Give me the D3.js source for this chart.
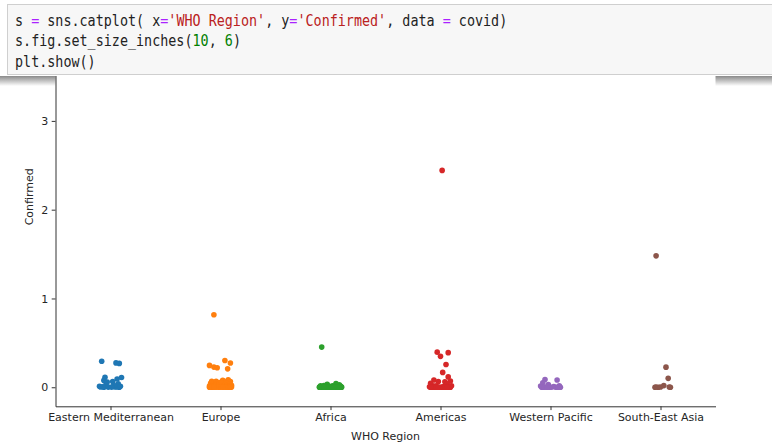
<!DOCTYPE html>
<html>
<head>
<meta charset="utf-8">
<script src="https://cdn.jsdelivr.net/npm/d3@7"></script>
<style>
  body { margin: 0; background: #fff; }
  svg { display: block; }
</style>
</head>
<body>
<svg id="chart" width="772" height="444"></svg>
<script>
// categories in the order seaborn drew them
var regions = ["Eastern Mediterranean", "Europe", "Africa", "Americas", "Western Pacific", "South-East Asia"];

// confirmed cases per country, and the strip jitter (in category units)
var emConfirmed = [36263, 39482, 5059, 92482, 293606, 112585, 1176, 64379, 3882, 2827, 20887, 77058, 274289, 109597, 268934, 3196, 11424, 674, 1455, 59177, 10621, 1691];
var emJitter = [-0.04, 0.07, -0.07, 0.06, -0.08, -0.05, 0.08, 0.02, 0.04, 0.06, 0.03, -0.06, 0.05, 0.1, 0.08, -0.09, 0.09, -0.06, -0.02, -0.03, -0.1, 0.01];

var euConfirmed = [816680, 301708, 272421, 246286, 227019, 220352, 207112, 67096, 67251, 84648, 79395, 66428, 63985, 53413, 50299, 43402, 45902, 37390, 34477, 33296, 30446, 25892, 23154, 24141, 21209, 20338, 15516, 13761, 10498, 10621, 10213, 9132, 7235, 7398, 6321, 4448, 4227, 4881, 4880, 2181, 2034, 1137, 1854, 2087, 2019, 7413, 2893, 907, 699, 1219, 701, 1060, 116, 86, 12, 14];
var euJitter = [-0.06, 0.04, 0.09, -0.1, -0.06, -0.03, 0.065, 0.03, -0.08, 0.07, 0.02, -0.04, 0.09, -0.01, 0.05, -0.09, 0.01, -0.06, 0.08, -0.03, 0.04, -0.07, 0.06, -0.02, 0.1, -0.05, 0.03, -0.1, 0.07, -0.04, 0.0, 0.05, -0.08, 0.09, -0.02, 0.02, -0.06, 0.08, -0.09, 0.04, -0.03, 0.06, -0.07, 0.01, 0.1, -0.05, 0.03, -0.01, 0.07, -0.08, 0.05, -0.04, 0.09, -0.1, 0.02, -0.06];

var afConfirmed = [452529, 41180, 33624, 27973, 17975, 17110, 14547, 15655, 9690, 9764, 8844, 7055, 7189, 4552, 6208, 3664, 2328, 1843, 2704, 2316, 1701, 1879, 1783, 2513, 3071, 4599, 2305, 3200, 1954, 1770, 1100, 874, 1132, 1167, 1128, 922, 950, 505, 739, 865, 378, 265, 509, 354, 326, 344, 114, 10];
var afJitter = [-0.08, 0.05, -0.03, 0.08, -0.06, 0.02, 0.09, -0.09, 0.04, -0.01, 0.07, -0.05, 0.01, -0.08, 0.06, -0.02, 0.1, -0.07, 0.03, -0.04, 0.08, 0.0, -0.1, 0.05, -0.06, 0.02, 0.09, -0.03, 0.06, -0.09, 0.04, -0.01, 0.07, -0.05, 0.03, -0.08, 0.1, -0.02, 0.05, -0.07, 0.01, 0.08, -0.04, 0.06, -0.1, 0.02, -0.06, 0.03];

var amConfirmed = [4290259, 2442375, 395489, 389717, 347923, 257101, 167416, 116458, 81161, 71181, 64156, 61442, 45309, 39741, 15035, 15841, 15988, 7340, 4548, 3439, 2532, 1202, 853, 1483, 389, 148, 382, 110, 48, 86, 52, 23, 18, 24, 17];
var amJitter = [0.0, 0.015, -0.03, 0.07, 0.0, 0.05, 0.02, 0.07, -0.06, 0.09, -0.02, 0.04, -0.09, 0.06, -0.04, 0.1, -0.07, 0.03, -0.1, 0.08, -0.05, 0.01, -0.08, 0.05, -0.03, 0.09, -0.06, 0.02, -0.01, 0.07, -0.09, 0.04, -0.04, 0.06, -0.02];

var wpConfirmed = [86783, 82040, 50838, 31142, 15303, 14203, 8904, 1557, 431, 289, 226, 141, 27, 20, 62, 462];
var wpJitter = [-0.05, 0.06, -0.07, -0.02, 0.08, -0.09, 0.03, -0.04, 0.09, -0.08, 0.01, -0.06, 0.05, -0.01, 0.07, -0.03];

var seConfirmed = [1480073, 226225, 100303, 18752, 3297, 2805, 350, 3369, 99, 24];
var seJitter = [-0.04, 0.05, 0.07, 0.03, -0.04, 0.08, -0.02, 0.0, -0.05, 0.09];

// only the ticks that show below the code cell
var yTicks = [0, 1e6, 2e6, 3e6];

// the notebook cell above the figure
var codeLines = [
  [["s ", "t"], ["=", "op"], [" sns.catplot( x", "t"], ["=", "op"], ["'WHO Region'", "str"], [", y", "t"], ["=", "op"], ["'Confirmed'", "str"], [", data ", "t"], ["=", "op"], [" covid)", "t"]],
  [["s.fig.set_size_inches(", "t"], ["10", "num"], [", ", "t"], ["6", "num"], [")", "t"]],
  [["plt.show()", "t"]]
];
var codeColor = {t: "#222", op: "#aa22ff", str: "#ba2121", num: "#008000"};

var svg = d3.select("#chart");

// ---- code cell
svg.append("rect")
    .attr("x", 7.5).attr("y", 4.5)
    .attr("width", 780).attr("height", 70)
    .attr("fill", "#f7f7f7")
    .attr("stroke", "#cfcfcf");

svg.selectAll("text.code")
    .data(codeLines)
    .enter().append("text")
    .attr("class", "code")
    .attr("transform", function(d, i) { return "translate(15," + (26 + i * 20.3) + ") scale(0.894,1)"; })
    .style("font-family", "DejaVu Sans Mono, monospace")
    .style("font-size", "15px")
    .selectAll("tspan")
    .data(function(d) { return d; })
    .enter().append("tspan")
    .attr("fill", function(d) { return codeColor[d[1]]; })
    .style("white-space", "pre")
    .attr("xml:space", "preserve")
    .text(function(d) { return d[0]; });

// ---- output area shadow at its top edge
var defs = svg.append("defs");
var grad = defs.append("linearGradient")
    .attr("id", "shade").attr("x1", 0).attr("y1", 0).attr("x2", 0).attr("y2", 1);
grad.append("stop").attr("offset", "0%").attr("stop-color", "#8a8a8a");
grad.append("stop").attr("offset", "100%").attr("stop-color", "#fff");

defs.append("clipPath").attr("id", "outclip")
    .append("rect").attr("x", 0).attr("y", 76).attr("width", 772).attr("height", 368);

svg.append("rect")
    .attr("x", 0).attr("y", 76)
    .attr("width", 772).attr("height", 10)
    .attr("fill", "url(#shade)");

// ---- figure
var x = d3.scaleLinear().domain([-0.5, regions.length - 0.5]).range([55.5, 715.5]);
var y = d3.scaleLinear().domain([-214513, 4504772]).range([406.3, -12.7]);
var color = d3.scaleOrdinal(d3.schemeCategory10).domain(regions);

var fig = svg.append("g").attr("clip-path", "url(#outclip)");

// axes patch is white, the rest of the figure is see-through
fig.append("rect")
    .attr("x", x.range()[0]).attr("y", y.range()[1])
    .attr("width", x.range()[1] - x.range()[0])
    .attr("height", y.range()[0] - y.range()[1])
    .attr("fill", "#fff");

var series = [
  [emConfirmed, emJitter], [euConfirmed, euJitter], [afConfirmed, afJitter],
  [amConfirmed, amJitter], [wpConfirmed, wpJitter], [seConfirmed, seJitter]
];
var points = [];
series.forEach(function(s, i) {
  s[0].forEach(function(v, j) {
    points.push({region: regions[i], idx: i, value: v, jitter: s[1][j]});
  });
});

fig.append("g")
    .selectAll("circle")
    .data(points)
    .enter().append("circle")
    .attr("cx", function(d) { return x(d.idx + d.jitter); })
    .attr("cy", function(d) { return y(d.value); })
    .attr("r", 2.8)
    .attr("fill", function(d) { return color(d.region); });

var xAxis = d3.axisBottom(x)
    .tickValues(d3.range(regions.length))
    .tickFormat(function(d) { return regions[d]; })
    .tickSizeInner(3.8).tickSizeOuter(0).tickPadding(3.5);

var yAxis = d3.axisLeft(y)
    .tickValues(yTicks)
    .tickFormat(function(d) { return d / 1e6; })
    .tickSizeInner(3.8).tickSizeOuter(0).tickPadding(3.5);

var gx = fig.append("g")
    .attr("transform", "translate(0," + y.range()[0] + ")")
    .call(xAxis);
var gy = fig.append("g")
    .attr("transform", "translate(" + x.range()[0] + ",0)")
    .call(yAxis);

[gx, gy].forEach(function(g) {
  g.select(".domain").attr("stroke", "#333").attr("stroke-width", 1);
  g.selectAll(".tick line").attr("stroke", "#333").attr("stroke-width", 1);
  g.selectAll(".tick text")
      .attr("fill", "#262626")
      .style("font-family", "DejaVu Sans, sans-serif")
      .style("font-size", "11px");
});

fig.append("text")
    .attr("x", (x.range()[0] + x.range()[1]) / 2)
    .attr("y", 439.5)
    .attr("text-anchor", "middle")
    .attr("fill", "#262626")
    .style("font-family", "DejaVu Sans, sans-serif")
    .style("font-size", "11px")
    .text("WHO Region");

fig.append("text")
    .attr("transform", "translate(33," + (y.range()[0] + y.range()[1]) / 2 + ") rotate(-90)")
    .attr("text-anchor", "middle")
    .attr("fill", "#262626")
    .style("font-family", "DejaVu Sans, sans-serif")
    .style("font-size", "11px")
    .text("Confirmed");
</script>
</body>
</html>
